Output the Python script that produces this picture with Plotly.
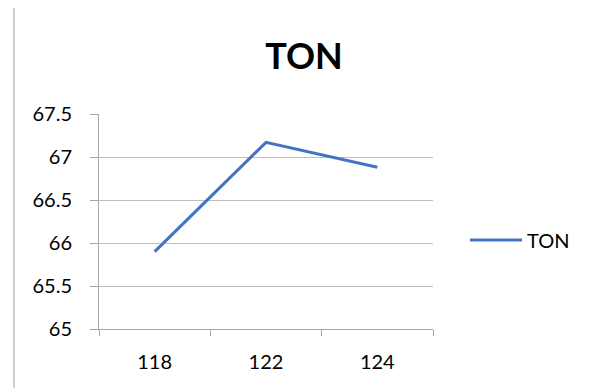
import plotly.graph_objects as go

# Data
categories = ["118", "122", "124"]
ton_values = [65.9, 67.17, 66.88]
series_name = "TON"
y_ticks = [65, 65.5, 66, 66.5, 67, 67.5]
y_tick_labels = ["65", "65.5", "66", "66.5", "67", "67.5"]

FONT = "Lato, Carlito, Calibri, sans-serif"
BLUE = "#4472C4"
GRID = "#BFBFBF"
AXIS = "#A6A6A6"

fig = go.Figure()
fig.add_trace(go.Scatter(
    x=categories, y=ton_values, name=series_name, mode="lines",
    line=dict(color=BLUE, width=3),
))

fig.update_layout(
    width=592, height=388,
    margin=dict(l=99, r=159, t=114, b=59, autoexpand=False),
    paper_bgcolor="white", plot_bgcolor="white",
    font=dict(family=FONT, size=20, color="black"),
    title=dict(text="<b>TON</b>", x=304 / 592, xanchor="center",
               y=1 - 56 / 388, yanchor="middle",
               font=dict(family=FONT, size=36, color="black")),
    showlegend=True,
    legend=dict(xref="container", yref="container",
                x=465 / 592, y=1 - 240 / 388, xanchor="left", yanchor="middle",
                font=dict(family=FONT, size=20, color="black"),
                itemwidth=52, bgcolor="rgba(0,0,0,0)"),
    xaxis=dict(type="category", range=[-0.5, 2.5], tickson="boundaries",
               ticks="outside", ticklen=6, tickcolor=AXIS,
               ticklabelstandoff=15,
               showline=True, linecolor=AXIS, linewidth=1,
               showgrid=False, zeroline=False, fixedrange=True),
    yaxis=dict(range=[65, 67.5], tickvals=y_ticks, ticktext=y_tick_labels,
               ticks="outside", ticklen=8, tickcolor=AXIS,
               ticklabelstandoff=14,
               showline=True, linecolor=AXIS, linewidth=1,
               showgrid=True, gridcolor=GRID, gridwidth=1,
               zeroline=False, fixedrange=True),
)

# Thin vertical rule along the left edge of the chart area
fig.add_shape(type="line", xref="paper", yref="paper",
              x0=(14 - 99) / 334, x1=(14 - 99) / 334,
              y0=(329 - 8) / 215, y1=(329 - 392) / 215,
              line=dict(color="#A0A0A0", width=1))

fig.write_html("out.html")
